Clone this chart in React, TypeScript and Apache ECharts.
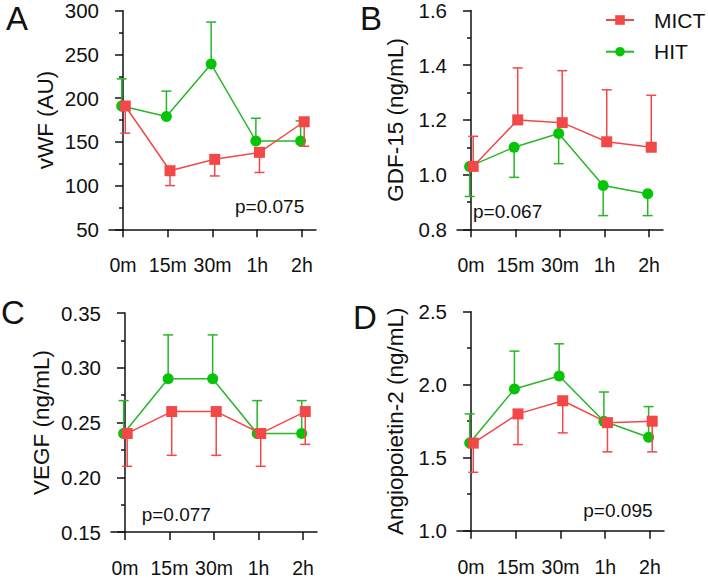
import React, { useEffect, useRef } from 'react';
import * as echarts from 'echarts';

const FONT = '"Liberation Sans", Arial, Helvetica, sans-serif';
const RED = '#F24848';
const GREEN_LINE = '#28B628';
const GREEN_MARK = '#08C408';
const INK = '#111111';

const CATS = ['0m', '15m', '30m', '1h', '2h'];
const X_POS = [0, 1, 2, 3, 4];

// Panel A: vWF (AU)
const A_HIT = [191, 179, 239, 151, 151];
const A_HIT_ERR = [222, 208, 287, 177, 174];
const A_MICT = [191, 117, 130, 138, 173];
const A_MICT_ERR = [160, 100, 111, 115, 145];

// Panel B: GDF-15 (ng/mL)
const B_HIT = [1.03, 1.1, 1.15, 0.96, 0.93];
const B_HIT_ERR = [0.92, 0.99, 1.04, 0.85, 0.85];
const B_MICT = [1.03, 1.2, 1.19, 1.12, 1.1];
const B_MICT_ERR = [1.14, 1.39, 1.38, 1.31, 1.29];

// Panel C: VEGF (ng/mL)
const C_HIT = [0.24, 0.29, 0.29, 0.24, 0.24];
const C_HIT_ERR = [0.27, 0.33, 0.33, 0.27, 0.27];
const C_MICT = [0.24, 0.26, 0.26, 0.24, 0.26];
const C_MICT_ERR = [0.21, 0.22, 0.22, 0.21, 0.23];

// Panel D: Angiopoietin-2 (ng/mL)
const D_HIT = [1.6, 1.97, 2.06, 1.75, 1.64];
const D_HIT_ERR = [1.8, 2.23, 2.28, 1.95, 1.85];
const D_MICT = [1.6, 1.8, 1.89, 1.74, 1.75];
const D_MICT_ERR = [1.4, 1.59, 1.67, 1.54, 1.54];

const LETTERS = ['A', 'B', 'C', 'D'];
const Y_NAMES = ['vWF (AU)', 'GDF-15 (ng/mL)', 'VEGF (ng/mL)', 'Angiopoietin-2 (ng/mL)'];
const Y_MIN = [50, 0.8, 0.15, 1.0];
const Y_MAX = [300, 1.6, 0.35, 2.5];
const Y_STEP = [50, 0.2, 0.05, 0.5];
const Y_DEC = [0, 1, 2, 1];
const P_TEXT = ['p=0.075', 'p=0.067', 'p=0.077', 'p=0.095'];

const HIT_VALS = [A_HIT, B_HIT, C_HIT, D_HIT];
const HIT_ERRS = [A_HIT_ERR, B_HIT_ERR, C_HIT_ERR, D_HIT_ERR];
const MICT_VALS = [A_MICT, B_MICT, C_MICT, D_MICT];
const MICT_ERRS = [A_MICT_ERR, B_MICT_ERR, C_MICT_ERR, D_MICT_ERR];

// layout
const GRIDS = [
  { left: 109, top: 10.7, width: 207, height: 218.6 },
  { left: 457, top: 10.5, width: 206, height: 218.8 },
  { left: 111, top: 313, width: 206, height: 219.5 },
  { left: 457, top: 311.7, width: 207, height: 219 },
];
const NAME_GAPS = [52, 50, 58, 50];
const LETTER_POS = [
  [6, 18.8],
  [360, 18.8],
  [1, 312.5],
  [353, 317.5],
];
const P_POS = [
  [235, 206.7],
  [473, 211],
  [141.7, 514],
  [583.3, 510],
];
const HIT_SHIFT = -0.03;
const MICT_SHIFT = 0.05;

function errSeries(i: number, name: string, vals: number[], errs: number[], shift: number, color: string, z: number) {
  return {
    type: 'custom',
    name: name + ' err',
    xAxisIndex: i,
    yAxisIndex: i,
    z,
    clip: false,
    encode: { x: 0, y: 1 },
    data: vals.map((v, k) => [X_POS[k] + shift, v, errs[k]]),
    renderItem: (_p: any, api: any) => {
      const x = api.value(0);
      const p0 = api.coord([x, api.value(1)]);
      const p1 = api.coord([x, api.value(2)]);
      const st = { stroke: color, lineWidth: 1.5 };
      return {
        type: 'group',
        children: [
          { type: 'line', shape: { x1: p0[0], y1: p0[1], x2: p1[0], y2: p1[1] }, style: st },
          { type: 'line', shape: { x1: p1[0] - 5, y1: p1[1], x2: p1[0] + 5, y2: p1[1] }, style: st },
        ],
      };
    },
  };
}

function lineSeries(i: number, name: string, vals: number[], shift: number, lineColor: string, markColor: string, symbol: string, z: number) {
  return {
    type: 'line',
    name,
    xAxisIndex: i,
    yAxisIndex: i,
    z,
    symbol,
    symbolSize: 11,
    showSymbol: true,
    clip: false,
    lineStyle: { color: lineColor, width: 1.5 },
    itemStyle: { color: markColor, borderWidth: 0 },
    emphasis: { disabled: true },
    data: vals.map((v, k) => [X_POS[k] + shift, v]),
  };
}

export default function App() {
  const ref = useRef<HTMLDivElement>(null);
  useEffect(() => {
    document.body.style.margin = '0';
    const chart = echarts.init(ref.current as HTMLDivElement, null, { renderer: 'svg' });

    const xAxes = GRIDS.map((_, i) => ({
      type: 'value',
      gridIndex: i,
      min: -0.314,
      max: 4.314,
      splitLine: { show: false },
      axisLine: { show: true, lineStyle: { color: INK, width: 1.5 } },
      axisTick: { show: true, length: 8, lineStyle: { color: INK, width: 1.5 }, customValues: X_POS },
      axisLabel: {
        customValues: X_POS,
        margin: 26,
        fontSize: 19.5,
        fontFamily: FONT,
        color: INK,
        formatter: (v: number) => CATS[Math.round(v)] ?? '',
      },
    }));

    const yAxes = GRIDS.map((_, i) => ({
      type: 'value',
      gridIndex: i,
      min: Y_MIN[i],
      max: Y_MAX[i],
      interval: Y_STEP[i],
      name: Y_NAMES[i],
      nameLocation: 'middle',
      nameRotate: 90,
      nameGap: NAME_GAPS[i],
      nameTextStyle: { fontSize: 22.5, fontFamily: FONT, color: INK },
      splitLine: { show: false },
      axisLine: { show: true, lineStyle: { color: INK, width: 1.5 } },
      axisTick: { show: true, length: 8, lineStyle: { color: INK, width: 1.5 } },
      minorTick: { show: true, splitNumber: 2, length: 4, lineStyle: { color: INK, width: 1.5 } },
      axisLabel: {
        margin: 10,
        fontSize: 20.5,
        fontFamily: FONT,
        color: INK,
        formatter: (v: number) => v.toFixed(Y_DEC[i]),
      },
    }));

    const series: any[] = [];
    GRIDS.forEach((_, i) => {
      series.push(errSeries(i, 'HIT', HIT_VALS[i], HIT_ERRS[i], HIT_SHIFT, GREEN_LINE, 1));
      series.push(lineSeries(i, 'HIT', HIT_VALS[i], HIT_SHIFT, GREEN_LINE, GREEN_MARK, 'circle', 2));
      series.push(errSeries(i, 'MICT', MICT_VALS[i], MICT_ERRS[i], MICT_SHIFT, RED, 3));
      series.push(lineSeries(i, 'MICT', MICT_VALS[i], MICT_SHIFT, RED, RED, 'rect', 4));
    });

    const graphics: any[] = [];
    LETTERS.forEach((t, i) => {
      graphics.push({
        type: 'text',
        x: LETTER_POS[i][0],
        y: LETTER_POS[i][1],
        style: { text: t, fontSize: 33, fontFamily: FONT, fill: INK, verticalAlign: 'middle', align: 'left' },
      });
      graphics.push({
        type: 'text',
        x: P_POS[i][0],
        y: P_POS[i][1],
        style: { text: P_TEXT[i], fontSize: 19, fontFamily: FONT, fill: INK, verticalAlign: 'middle', align: 'left' },
      });
    });

    chart.setOption({
      animation: false,
      backgroundColor: '#ffffff',
      grid: GRIDS.map((g) => ({ ...g, containLabel: false })),
      xAxis: xAxes,
      yAxis: yAxes,
      legend: {
        data: ['MICT', 'HIT'],
        orient: 'vertical',
        left: 605,
        top: 9.5,
        padding: 0,
        itemWidth: 28,
        itemHeight: 12,
        itemGap: 10.7,
        selectedMode: false,
        textStyle: { fontSize: 21, fontFamily: FONT, color: INK, lineHeight: 21, padding: [0, 0, 0, 15] },
      },
      graphic: graphics,
      series,
    });

    return () => chart.dispose();
  }, []);
  return <div ref={ref} style={{ width: 708, height: 578 }} />;
}
